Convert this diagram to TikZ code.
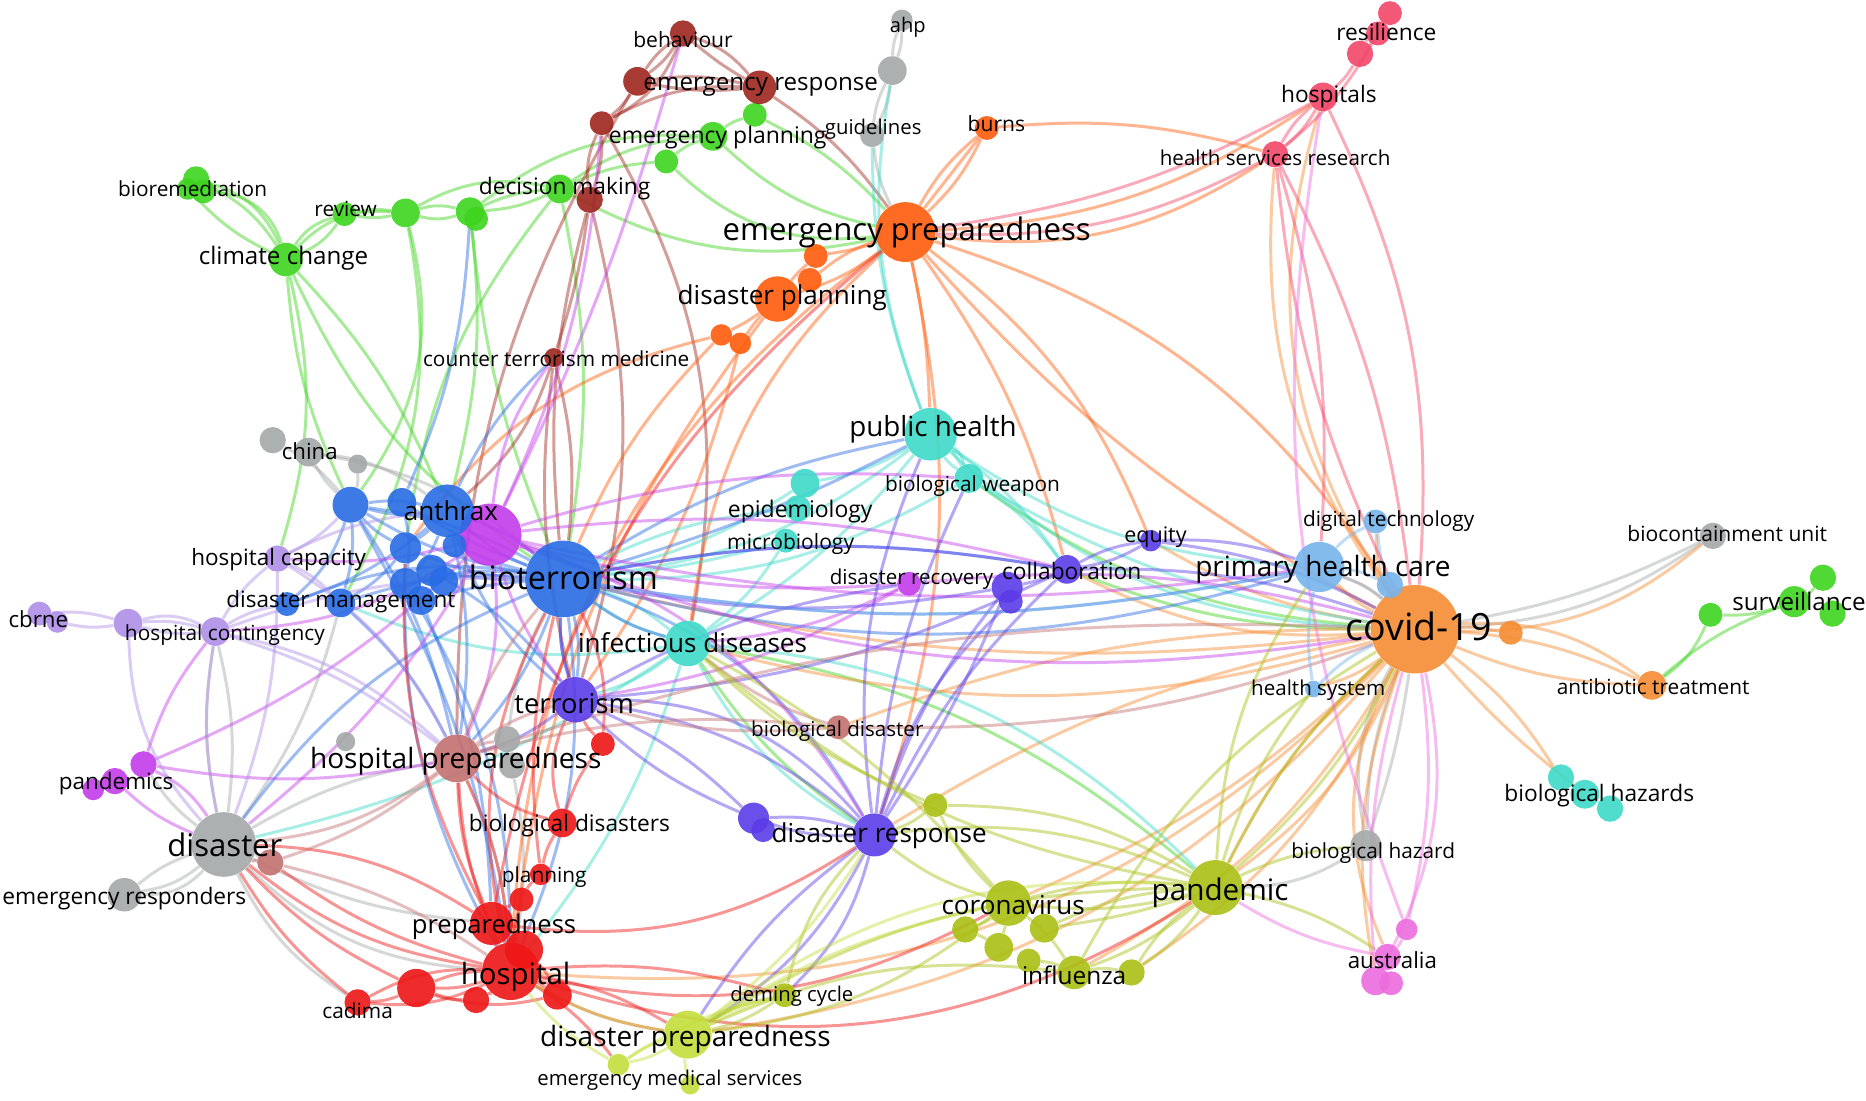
\documentclass[tikz,border=0pt]{standalone}
\usepackage{fontspec}
\setmainfont{Open Sans}
\usetikzlibrary{backgrounds}
\pgfdeclarelayer{bg}
\pgfsetlayers{bg,main}
\definecolor{cG}{RGB}{62,212,30}
\definecolor{cB}{RGB}{158,38,30}
\definecolor{cGy}{RGB}{165,168,168}
\definecolor{cO}{RGB}{255,92,10}
\definecolor{cC}{RGB}{245,140,50}
\definecolor{cCy}{RGB}{62,218,200}
\definecolor{cBl}{RGB}{40,108,228}
\definecolor{cM}{RGB}{196,60,236}
\definecolor{cL}{RGB}{176,142,232}
\definecolor{cI}{RGB}{92,60,232}
\definecolor{cR}{RGB}{238,22,22}
\definecolor{cRb}{RGB}{196,112,112}
\definecolor{cLb}{RGB}{118,180,236}
\definecolor{cY}{RGB}{170,192,20}
\definecolor{cLy}{RGB}{196,222,60}
\definecolor{cP}{RGB}{242,70,104}
\definecolor{cPk}{RGB}{236,108,222}
\tikzset{
  nd/.style={circle, inner sep=0pt, fill opacity=0.9},
  lab/.style={inner sep=0pt, text=black},
  ed/.style={line width=1.25pt, draw opacity=0.45}
}
\newcommand\vn[5]{\node[nd, minimum size=#4pt, fill=#5] (#1) at (#2,#3) {};}
\newcommand\vl[5]{\node[lab, font=\fontsize{#4}{#4}\selectfont] (l#1) at (#2,#3) {#5};}
\newcommand\ve[4]{\draw[ed, #1] (#2) to[bend left=#4] (#3);}
\begin{document}
\begin{tikzpicture}[x=0.5pt, y=-0.5pt]
\useasboundingbox (0,0) rectangle (1560,920);
% ---------- nodes ----------
% green
\vn{brem3}{157}{158}{9}{cG}\vn{brem}{164}{150}{11}{cG}\vn{brem2}{170}{160}{10}{cG}
\vn{clim}{239}{217}{14}{cG}
\vn{revw}{288}{179}{10}{cG}
\vn{g1}{339}{178}{12}{cG}
\vn{g2}{393}{177}{12}{cG}\vn{g2b}{398}{183}{10}{cG}
\vn{decm}{468}{158}{12}{cG}
\vn{g3}{557}{135}{10}{cG}
\vn{eplan}{596}{114}{12}{cG}
\vn{g4}{631}{96}{10}{cG}
\vn{g5}{1430}{514}{10}{cG}
\vn{surv}{1500}{503}{13}{cG}\vn{surv2}{1524}{483}{11}{cG}\vn{surv3}{1532}{513}{11}{cG}
% brown
\vn{behv}{571}{28}{11}{cB}
\vn{br1}{533}{68}{12}{cB}
\vn{eresp}{635}{73}{14}{cB}
\vn{br2}{503}{103}{10}{cB}
\vn{br3}{493}{167}{11}{cB}
\vn{ctm}{463}{299}{8}{cB}
% grey
\vn{ahp}{754}{17}{9}{cGy}
\vn{gy1}{746}{59}{12}{cGy}
\vn{guid}{729}{113}{10}{cGy}
\vn{china}{228}{368}{11}{cGy}
\vn{china2}{258}{378}{12}{cGy}
\vn{gy2}{299}{388}{8}{cGy}
\vn{gy3}{424}{618}{11}{cGy}
\vn{gy4}{428}{640}{11}{cGy}
\vn{gy5}{289}{620}{8}{cGy}
\vn{disa}{187}{706}{27}{cGy}
\vn{eresr}{104}{748}{14}{cGy}
\vn{biocu}{1432}{448}{11}{cGy}
\vn{biohz}{1142}{707}{13}{cGy}
% orange-red
\vn{epre}{757}{194}{25}{cO}
\vn{burns}{825}{107}{10}{cO}
\vn{o1}{682}{214}{10}{cO}
\vn{o2}{677}{234}{10}{cO}
\vn{dplan}{650}{250}{19}{cO}
\vn{o3}{603}{280}{9}{cO}
\vn{o4}{619}{287}{9}{cO}
% covid orange
\vn{covid}{1183}{526}{37}{cC}
\vn{c1}{1263}{529}{10}{cC}
\vn{antib}{1381}{573}{12}{cC}
% cyan
\vn{phea}{778}{363}{22}{cCy}
\vn{bweap}{810}{400}{12}{cCy}
\vn{epid}{673}{404}{12}{cCy}
\vn{epid2}{667}{425}{11}{cCy}
\vn{micro}{657}{452}{10}{cCy}
\vn{infd}{575}{538}{19}{cCy}
\vn{bhzs}{1305}{650}{11}{cCy}\vn{bhzs2}{1325}{664}{12}{cCy}\vn{bhzs3}{1346}{676}{11}{cCy}
% magenta (behind blue)
\vn{mag}{410}{447}{26}{cM}
% blue
\vn{bl1}{293}{422}{15}{cBl}
\vn{bl2}{336}{420}{12}{cBl}
\vn{anth}{374}{427}{22}{cBl}
\vn{bl3}{339}{458}{13}{cBl}
\vn{bl5}{380}{456}{10}{cBl}
\vn{bl4}{361}{477}{13}{cBl}
\vn{bl6}{339}{488}{13}{cBl}
\vn{bl7}{285}{504}{12}{cBl}
\vn{bl8}{240}{505}{10}{cBl}
\vn{bl9}{352}{502}{12}{cBl}
\vn{bl10}{371}{486}{12}{cBl}
\vn{biot}{471}{484}{32}{cBl}
% magenta small
\vn{drec}{760}{488}{10}{cM}
\vn{pand3}{78}{660}{9}{cM}\vn{pand2}{96}{653}{11}{cM}\vn{pand1}{120}{639}{11}{cM}
% lavender
\vn{cbrne}{33}{513}{10}{cL}\vn{cbrne2}{48}{520}{9}{cL}
\vn{hcap}{232}{467}{11}{cL}
\vn{hcont}{180}{528}{12}{cL}
\vn{l1}{107}{521}{12}{cL}
% indigo
\vn{terr}{481}{585}{19}{cI}
\vn{collab}{892}{476}{12}{cI}
\vn{i1}{842}{491}{13}{cI}
\vn{i2}{845}{503}{10}{cI}
\vn{equity}{962}{452}{9}{cI}
\vn{dresp}{731}{698}{18}{cI}
\vn{i3}{630}{684}{13}{cI}
\vn{i4}{638}{694}{10}{cI}
% rosy
\vn{hprep}{382}{634}{20}{cRb}
\vn{rb1}{226}{721}{11}{cRb}
\vn{bdis}{701}{608}{10}{cRb}
% red
\vn{biods}{470}{688}{12}{cR}
\vn{r2}{504}{622}{10}{cR}
\vn{plann}{452}{731}{9}{cR}
\vn{r1}{436}{752}{10}{cR}
\vn{prep}{411}{772}{18}{cR}
\vn{r0}{438}{794}{16}{cR}
\vn{hosp}{427}{812}{24}{cR}
\vn{r3}{348}{826}{16}{cR}
\vn{cadima}{299}{838}{11}{cR}
\vn{r4}{398}{836}{11}{cR}
\vn{r5}{466}{832}{12}{cR}
% light blue
\vn{phc}{1103}{474}{21}{cLb}
\vn{digt}{1150}{436}{10}{cLb}
\vn{lb1}{1162}{489}{11}{cLb}
\vn{hsys}{1098}{576}{7}{cLb}
% yellow-green
\vn{pandm}{1016}{742}{23}{cY}
\vn{coron}{843}{755}{19}{cY}
\vn{y1}{782}{673}{10}{cY}
\vn{y2}{873}{776}{12}{cY}
\vn{y3}{807}{777}{11}{cY}
\vn{y4}{835}{792}{12}{cY}
\vn{y6}{860}{803}{10}{cY}
\vn{influ}{898}{813}{14}{cY}
\vn{y5}{946}{813}{11}{cY}
\vn{demc}{656}{832}{10}{cY}
% light yellow
\vn{dprep}{575}{865}{20}{cLy}
\vn{ems}{517}{890}{9}{cLy}
\vn{ems2}{577}{907}{8}{cLy}
% pink
\vn{resil}{1162}{11}{10}{cP}\vn{resil3}{1152}{28}{10}{cP}\vn{resil2}{1137}{45}{11}{cP}
\vn{hosps}{1106}{81}{12}{cP}
\vn{hsr}{1066}{129}{11}{cP}
% australia
\vn{aus1}{1176}{777}{9}{cPk}
\vn{aus2}{1160}{800}{11}{cPk}
\vn{aus3}{1150}{820}{12}{cPk}
\vn{aus4}{1163}{822}{10}{cPk}
% ---------- edges ----------
\begin{pgfonlayer}{bg}
\fill[white] (0,0) rectangle (1560,920);
% green
\ve{cG}{brem}{clim}{25}\ve{cG}{brem}{clim}{15}\ve{cG}{brem2}{clim}{35}\ve{cG}{brem3}{clim}{-10}
\ve{cG}{clim}{revw}{20}\ve{cG}{clim}{revw}{-15}\ve{cG}{clim}{g1}{25}
\ve{cG}{revw}{g1}{10}\ve{cG}{revw}{g1}{-10}\ve{cG}{g1}{g2}{15}\ve{cG}{g1}{g2}{-15}
\ve{cG}{g2}{decm}{10}\ve{cG}{g2}{decm}{-10}\ve{cG}{g1}{decm}{20}
\ve{cG}{decm}{g3}{10}\ve{cG}{g3}{eplan}{10}\ve{cG}{eplan}{g4}{10}\ve{cG}{decm}{eplan}{15}\ve{cG}{g2}{eplan}{20}
\ve{cG}{clim}{anth}{10}\ve{cG}{clim}{bl1}{-10}\ve{cG}{clim}{hcap}{15}\ve{cG}{clim}{biot}{-15}
\ve{cG}{g1}{bl1}{25}\ve{cG}{g2}{anth}{10}\ve{cG}{g2}{biot}{-8}\ve{cG}{g1}{bl7}{20}
\ve{cG}{decm}{bl3}{-15}\ve{cG}{decm}{biot}{10}
\ve{cG}{eplan}{epre}{-15}\ve{cG}{g4}{epre}{10}\ve{cG}{decm}{epre}{-20}\ve{cG}{g3}{epre}{-25}
\ve{cG}{surv}{g5}{10}\ve{cG}{surv}{antib}{-10}\ve{cG}{g5}{antib}{15}\ve{cG}{surv2}{surv}{10}
\ve{cG}{collab}{covid}{-10}\ve{cG}{infd}{pandm}{15}\ve{cG}{bweap}{covid}{-15}\ve{cG}{infd}{dresp}{-10}
% brown
\ve{cB}{behv}{br1}{10}\ve{cB}{behv}{br1}{-10}\ve{cB}{behv}{eresp}{15}\ve{cB}{behv}{eresp}{-5}
\ve{cB}{br1}{eresp}{10}\ve{cB}{br1}{eresp}{-8}\ve{cB}{br1}{br2}{10}\ve{cB}{br2}{eresp}{15}
\ve{cB}{br2}{br3}{10}\ve{cB}{br2}{br3}{-15}\ve{cB}{behv}{br2}{20}
\ve{cB}{br3}{ctm}{5}\ve{cB}{br3}{biot}{-10}\ve{cB}{ctm}{biot}{10}\ve{cB}{ctm}{terr}{-10}
\ve{cB}{ctm}{anth}{15}\ve{cB}{br3}{terr}{15}\ve{cB}{eresp}{epre}{10}\ve{cB}{br1}{hprep}{-15}\ve{cB}{br2}{infd}{20}
% grey
\ve{cGy}{ahp}{gy1}{10}\ve{cGy}{ahp}{gy1}{-10}\ve{cGy}{gy1}{guid}{10}\ve{cGy}{gy1}{guid}{-10}\ve{cGy}{guid}{epre}{-10}
\ve{cGy}{china}{bl1}{10}\ve{cGy}{china2}{bl1}{-10}\ve{cGy}{china2}{anth}{15}\ve{cGy}{gy2}{bl1}{10}\ve{cGy}{china2}{biot}{15}
\ve{cGy}{disa}{eresr}{15}\ve{cGy}{disa}{eresr}{-10}\ve{cGy}{disa}{eresr}{25}\ve{cGy}{disa}{hprep}{10}\ve{cGy}{disa}{rb1}{5}
\ve{cGy}{disa}{hcont}{10}\ve{cGy}{disa}{hcont}{-10}\ve{cGy}{disa}{pand1}{10}\ve{cGy}{disa}{bl7}{-10}
\ve{cGy}{disa}{hosp}{-20}\ve{cGy}{disa}{cadima}{-15}\ve{cGy}{disa}{prep}{-10}
\ve{cGy}{biocu}{covid}{15}\ve{cGy}{biocu}{covid}{8}\ve{cGy}{biohz}{covid}{10}\ve{cGy}{biohz}{covid}{-5}
\ve{cGy}{biohz}{pandm}{15}\ve{cGy}{biohz}{covid}{20}\ve{cGy}{gy3}{biot}{10}\ve{cGy}{gy4}{hosp}{10}
% orange-red
\ve{cO}{epre}{burns}{10}\ve{cO}{epre}{burns}{-10}\ve{cO}{epre}{burns}{0}\ve{cO}{epre}{o1}{5}\ve{cO}{epre}{o2}{-10}
\ve{cO}{epre}{dplan}{10}\ve{cO}{dplan}{o1}{5}\ve{cO}{dplan}{o3}{5}\ve{cO}{dplan}{o4}{-5}
\ve{cO}{o3}{biot}{-10}\ve{cO}{o4}{terr}{10}\ve{cO}{o3}{bl3}{-20}
\ve{cO}{epre}{hsr}{-20}\ve{cO}{epre}{hosps}{-15}\ve{cO}{burns}{hsr}{10}
\ve{cO}{epre}{covid}{20}\ve{cO}{epre}{covid}{-10}\ve{cO}{epre}{phea}{5}\ve{cO}{epre}{collab}{10}
\ve{cO}{epre}{equity}{15}\ve{cO}{epre}{dresp}{15}\ve{cO}{epre}{hosp}{-25}\ve{cO}{epre}{infd}{-20}\ve{cO}{dplan}{hosp}{-15}
% covid
\ve{cC}{covid}{phc}{10}\ve{cC}{covid}{phc}{-10}\ve{cC}{covid}{lb1}{5}\ve{cC}{covid}{digt}{15}\ve{cC}{covid}{c1}{5}
\ve{cC}{covid}{antib}{10}\ve{cC}{covid}{antib}{-10}\ve{cC}{covid}{antib}{20}\ve{cC}{covid}{biocu}{-20}
\ve{cC}{covid}{bhzs}{10}\ve{cC}{covid}{bhzs2}{-5}\ve{cC}{covid}{aus3}{-15}\ve{cC}{covid}{aus2}{-25}
\ve{cC}{covid}{pandm}{15}\ve{cC}{covid}{pandm}{-10}\ve{cC}{covid}{coron}{10}\ve{cC}{covid}{influ}{15}
\ve{cC}{covid}{hsys}{10}\ve{cC}{covid}{hsr}{20}\ve{cC}{covid}{hosps}{25}\ve{cC}{covid}{equity}{10}
\ve{cC}{covid}{collab}{15}\ve{cC}{covid}{biot}{10}\ve{cC}{covid}{infd}{15}\ve{cC}{covid}{dresp}{-10}
\ve{cC}{covid}{bdis}{-10}\ve{cC}{covid}{hosp}{25}\ve{cC}{covid}{dprep}{20}\ve{cC}{covid}{y5}{15}
% cyan
\ve{cCy}{phea}{bweap}{10}\ve{cCy}{phea}{bweap}{-10}\ve{cCy}{phea}{bweap}{20}\ve{cCy}{phea}{epid}{10}
\ve{cCy}{phea}{biot}{15}\ve{cCy}{phea}{infd}{10}\ve{cCy}{phea}{collab}{10}\ve{cCy}{phea}{phc}{-15}\ve{cCy}{phea}{covid}{-20}
\ve{cCy}{epid}{biot}{10}\ve{cCy}{epid2}{biot}{-10}\ve{cCy}{micro}{biot}{5}\ve{cCy}{micro}{infd}{10}
\ve{cCy}{infd}{biot}{10}\ve{cCy}{infd}{biot}{-10}\ve{cCy}{bweap}{biot}{15}\ve{cCy}{bweap}{collab}{10}
\ve{cCy}{bweap}{covid}{-10}\ve{cCy}{phea}{guid}{10}\ve{cCy}{phea}{gy1}{15}\ve{cCy}{infd}{dresp}{-15}
\ve{cCy}{infd}{terr}{10}\ve{cCy}{infd}{pandm}{20}\ve{cCy}{infd}{disa}{10}\ve{cCy}{infd}{hosp}{10}\ve{cCy}{infd}{bl7}{15}
% blue
\ve{cBl}{biot}{anth}{10}\ve{cBl}{biot}{anth}{-10}\ve{cBl}{biot}{bl1}{10}\ve{cBl}{biot}{bl1}{-10}
\ve{cBl}{biot}{bl2}{5}\ve{cBl}{biot}{bl3}{10}\ve{cBl}{biot}{bl4}{5}\ve{cBl}{biot}{bl5}{5}\ve{cBl}{biot}{bl6}{-10}
\ve{cBl}{biot}{bl7}{-10}\ve{cBl}{biot}{bl8}{-15}\ve{cBl}{biot}{bl9}{-5}\ve{cBl}{anth}{bl1}{10}\ve{cBl}{anth}{bl1}{-10}
\ve{cBl}{anth}{bl3}{5}\ve{cBl}{anth}{bl6}{10}\ve{cBl}{bl1}{bl7}{10}\ve{cBl}{bl1}{bl8}{15}\ve{cBl}{bl1}{bl3}{-10}
\ve{cBl}{bl2}{bl6}{10}\ve{cBl}{bl3}{bl7}{10}\ve{cBl}{anth}{bl8}{10}
\ve{cBl}{biot}{phea}{10}\ve{cBl}{biot}{phea}{-5}\ve{cBl}{biot}{collab}{10}\ve{cBl}{biot}{phc}{-10}\ve{cBl}{biot}{phc}{-15}
\ve{cBl}{biot}{hprep}{10}\ve{cBl}{biot}{terr}{10}\ve{cBl}{biot}{terr}{-10}\ve{cBl}{biot}{infd}{-10}\ve{cBl}{biot}{disa}{-15}
\ve{cBl}{biot}{hosp}{15}\ve{cBl}{bl1}{hprep}{10}\ve{cBl}{bl3}{hosp}{-15}\ve{cBl}{bl6}{hosp}{15}\ve{cBl}{bl7}{hprep}{10}
\ve{cBl}{anth}{hprep}{10}\ve{cBl}{bl1}{hosp}{10}\ve{cBl}{bl9}{prep}{10}\ve{cBl}{anth}{terr}{-15}\ve{cBl}{biot}{dresp}{20}
\ve{cBl}{bl4}{terr}{10}\ve{cBl}{anth}{ctm}{10}\ve{cBl}{bl2}{g2}{-10}
% magenta
\ve{cM}{mag}{biot}{10}\ve{cM}{mag}{anth}{5}\ve{cM}{mag}{drec}{-10}\ve{cM}{mag}{hcap}{10}\ve{cM}{mag}{hcont}{15}
\ve{cM}{mag}{phc}{-10}\ve{cM}{mag}{covid}{-15}\ve{cM}{drec}{covid}{10}\ve{cM}{drec}{infd}{10}\ve{cM}{mag}{pand1}{10}
\ve{cM}{mag}{hprep}{15}\ve{cM}{mag}{terr}{-10}\ve{cM}{mag}{disa}{10}\ve{cM}{pand1}{hcont}{10}\ve{cM}{pand1}{disa}{15}
\ve{cM}{pand2}{disa}{-10}\ve{cM}{pand1}{hprep}{-10}\ve{cM}{mag}{br2}{-10}\ve{cM}{mag}{ctm}{15}\ve{cM}{mag}{collab}{10}
\ve{cM}{mag}{bweap}{10}\ve{cM}{drec}{terr}{10}\ve{cM}{mag}{dresp}{20}\ve{cM}{mag}{behv}{-5}
% lavender
\ve{cL}{cbrne}{l1}{10}\ve{cL}{cbrne2}{l1}{-10}\ve{cL}{l1}{hcont}{10}\ve{cL}{l1}{hcont}{-10}\ve{cL}{l1}{hcont}{20}
\ve{cL}{hcont}{hcap}{10}\ve{cL}{hcont}{bl8}{10}\ve{cL}{hcap}{anth}{10}\ve{cL}{hcap}{bl1}{-10}\ve{cL}{hcont}{disa}{-10}
\ve{cL}{hcont}{hprep}{15}\ve{cL}{hcont}{hprep}{10}\ve{cL}{hcap}{bl7}{10}\ve{cL}{l1}{disa}{-20}\ve{cL}{hcont}{biot}{10}
\ve{cL}{hcap}{disa}{10}\ve{cL}{hcap}{hprep}{15}
% indigo
\ve{cI}{terr}{biot}{10}\ve{cI}{terr}{dresp}{15}\ve{cI}{terr}{dresp}{25}\ve{cI}{terr}{i3}{10}\ve{cI}{terr}{i3}{-10}
\ve{cI}{i3}{dresp}{10}\ve{cI}{i3}{dresp}{-10}\ve{cI}{dresp}{collab}{10}\ve{cI}{dresp}{i1}{10}\ve{cI}{dresp}{i1}{-5}
\ve{cI}{dresp}{i2}{15}\ve{cI}{collab}{equity}{10}\ve{cI}{collab}{equity}{-10}\ve{cI}{collab}{i1}{5}\ve{cI}{equity}{phc}{10}
\ve{cI}{collab}{covid}{10}\ve{cI}{collab}{biot}{-10}\ve{cI}{i1}{biot}{10}\ve{cI}{equity}{covid}{10}\ve{cI}{terr}{collab}{-10}
\ve{cI}{terr}{drec}{10}\ve{cI}{dresp}{phea}{15}\ve{cI}{dresp}{bweap}{10}\ve{cI}{terr}{hprep}{10}
\ve{cI}{dresp}{dprep}{15}\ve{cI}{dresp}{dprep}{-10}\ve{cI}{dresp}{demc}{15}
% red
\ve{cR}{hosp}{prep}{10}\ve{cR}{hosp}{r1}{5}\ve{cR}{prep}{r1}{10}\ve{cR}{r1}{plann}{10}\ve{cR}{plann}{biods}{10}
\ve{cR}{biods}{r2}{10}\ve{cR}{r2}{terr}{10}\ve{cR}{biods}{terr}{20}\ve{cR}{hosp}{r3}{10}\ve{cR}{hosp}{r3}{-10}
\ve{cR}{r3}{cadima}{10}\ve{cR}{hosp}{cadima}{15}\ve{cR}{hosp}{cadima}{-15}\ve{cR}{hosp}{r4}{10}\ve{cR}{hosp}{r5}{5}
\ve{cR}{r4}{r3}{10}\ve{cR}{hosp}{disa}{15}\ve{cR}{prep}{disa}{-15}\ve{cR}{hosp}{dprep}{10}\ve{cR}{hosp}{dprep}{-10}
\ve{cR}{hosp}{coron}{-20}\ve{cR}{prep}{dresp}{-20}\ve{cR}{hosp}{demc}{10}\ve{cR}{hosp}{hprep}{10}\ve{cR}{hosp}{hprep}{-10}
\ve{cR}{prep}{hprep}{10}\ve{cR}{biods}{hprep}{15}\ve{cR}{hosp}{pandm}{-25}\ve{cR}{plann}{biot}{10}\ve{cR}{r2}{biot}{-15}
\ve{cR}{hosp}{biot}{20}\ve{cR}{prep}{bl3}{15}\ve{cR}{cadima}{disa}{10}\ve{cR}{r3}{disa}{10}\ve{cR}{hosp}{rb1}{10}
\ve{cR}{prep}{epre}{20}\ve{cR}{hosp}{ems}{10}\ve{cR}{r0}{r5}{10}\ve{cR}{r3}{r5}{-15}
% rosy
\ve{cRb}{hprep}{biot}{10}\ve{cRb}{hprep}{terr}{10}\ve{cRb}{hprep}{disa}{15}\ve{cRb}{hprep}{rb1}{10}\ve{cRb}{hprep}{covid}{10}
\ve{cRb}{hprep}{bdis}{10}\ve{cRb}{bdis}{infd}{10}\ve{cRb}{bdis}{covid}{-10}\ve{cRb}{bdis}{terr}{10}\ve{cRb}{rb1}{hosp}{10}
\ve{cRb}{rb1}{disa}{10}\ve{cRb}{hprep}{gy3}{10}\ve{cRb}{hprep}{hosp}{10}
% light blue
\ve{cLb}{phc}{digt}{10}\ve{cLb}{phc}{lb1}{10}\ve{cLb}{phc}{covid}{10}\ve{cLb}{hsys}{covid}{10}\ve{cLb}{hsys}{phc}{10}
\ve{cLb}{digt}{covid}{-10}\ve{cLb}{phc}{biot}{10}
% yellow-green
\ve{cY}{pandm}{coron}{10}\ve{cY}{pandm}{coron}{-10}\ve{cY}{pandm}{influ}{10}\ve{cY}{pandm}{y5}{10}\ve{cY}{pandm}{y5}{-10}
\ve{cY}{pandm}{y2}{5}\ve{cY}{coron}{y1}{10}\ve{cY}{coron}{y3}{10}\ve{cY}{coron}{y4}{5}\ve{cY}{coron}{influ}{10}
\ve{cY}{influ}{y5}{10}\ve{cY}{y3}{y4}{5}\ve{cY}{pandm}{dresp}{-15}\ve{cY}{coron}{dresp}{10}\ve{cY}{y1}{dresp}{10}
\ve{cY}{pandm}{biohz}{10}\ve{cY}{pandm}{covid}{10}\ve{cY}{pandm}{covid}{-10}\ve{cY}{pandm}{hsys}{10}\ve{cY}{pandm}{phc}{15}
\ve{cY}{pandm}{dprep}{-15}\ve{cY}{coron}{dprep}{15}\ve{cY}{demc}{dprep}{10}\ve{cY}{demc}{dprep}{-10}\ve{cY}{demc}{dresp}{15}
\ve{cY}{y1}{pandm}{15}\ve{cY}{pandm}{infd}{15}\ve{cY}{y1}{infd}{10}\ve{cY}{coron}{infd}{-10}\ve{cY}{pandm}{aus2}{10}
\ve{cY}{influ}{dprep}{-15}\ve{cY}{y2}{pandm}{10}\ve{cY}{influ}{covid}{15}\ve{cY}{y6}{influ}{10}
% light yellow
\ve{cLy}{dprep}{ems}{10}\ve{cLy}{dprep}{ems}{-10}\ve{cLy}{dprep}{hosp}{10}\ve{cLy}{ems}{hosp}{10}\ve{cLy}{dprep}{demc}{5}
\ve{cLy}{dprep}{coron}{10}\ve{cLy}{dprep}{dresp}{-10}\ve{cLy}{dprep}{pandm}{20}\ve{cLy}{ems}{demc}{10}\ve{cLy}{ems2}{dprep}{10}
% pink
\ve{cP}{resil}{resil2}{10}\ve{cP}{resil}{resil2}{-10}\ve{cP}{resil2}{hosps}{10}\ve{cP}{hosps}{hsr}{10}\ve{cP}{hosps}{hsr}{-10}
\ve{cP}{hsr}{epre}{15}\ve{cP}{hsr}{covid}{10}\ve{cP}{hsr}{covid}{-10}\ve{cP}{hosps}{covid}{15}\ve{cP}{hsr}{phc}{10}
\ve{cP}{hosps}{epre}{10}\ve{cP}{resil3}{hsr}{10}
% australia
\ve{cPk}{aus3}{covid}{10}\ve{cPk}{aus1}{covid}{-10}\ve{cPk}{aus2}{pandm}{10}\ve{cPk}{aus1}{hosps}{15}
\ve{cPk}{aus3}{aus2}{10}\ve{cPk}{aus1}{aus2}{10}\ve{cPk}{aus3}{covid}{-20}
\end{pgfonlayer}
% ---------- labels ----------
\vl{brem}{161}{158}{8.7}{bioremediation}
\vl{clim}{237}{216}{10.1}{climate change}
\vl{revw}{289}{175}{8.7}{review}
\vl{decm}{472}{158}{9.5}{decision making}
\vl{eplan}{600}{115}{9.6}{emergency planning}
\vl{behv}{571}{33}{8.8}{behaviour}
\vl{eresp}{636}{73}{10.1}{emergency response}
\vl{ahp}{759}{23}{8.4}{ahp}
\vl{guid}{730}{108}{8.5}{guidelines}
\vl{burns}{833}{103}{8.8}{burns}
\vl{epre}{758}{194}{13}{emergency preparedness}
\vl{dplan}{654}{249}{10.9}{disaster planning}
\vl{ctm}{465}{300}{8.7}{counter terrorism medicine}
\vl{resil}{1159}{27}{9.5}{resilience}
\vl{hosps}{1111}{81}{9.5}{hospitals}
\vl{hsr}{1066}{132}{8.6}{health services research}
\vl{phea}{780}{359}{11.6}{public health}
\vl{bweap}{813}{406}{8.7}{biological weapon}
\vl{epid}{669}{428}{9.6}{epidemiology}
\vl{micro}{661}{455}{8.8}{microbiology}
\vl{china}{259}{377}{9.3}{china}
\vl{anth}{377}{427}{10.9}{anthrax}
\vl{hcap}{233}{468}{9.4}{hospital capacity}
\vl{bl7}{285}{503}{9.4}{disaster management}
\vl{cbrne}{32}{518}{9.3}{cbrne}
\vl{hcont}{188}{531}{8.7}{hospital contingency}
\vl{biot}{471}{483}{13.5}{bioterrorism}
\vl{infd}{579}{537}{10.9}{infectious diseases}
\vl{terr}{480}{588}{11.4}{terrorism}
\vl{hprep}{381}{636}{11.7}{hospital preparedness}
\vl{pand}{97}{655}{9.4}{pandemics}
\vl{disa}{188}{706}{13}{disaster}
\vl{eresr}{104}{751}{9.5}{emergency responders}
\vl{biods}{476}{690}{9.5}{biological disasters}
\vl{plann}{455}{733}{8.7}{planning}
\vl{prep}{413}{775}{10.7}{preparedness}
\vl{hosp}{431}{817}{12.3}{hospital}
\vl{cadima}{299}{845}{8.7}{cadima}
\vl{dprep}{573}{869}{11.7}{disaster preparedness}
\vl{ems}{560}{903}{8.5}{emergency medical services}
\vl{demc}{662}{833}{8.5}{deming cycle}
\vl{bdis}{700}{611}{8.6}{biological disaster}
\vl{dresp}{735}{699}{10.9}{disaster response}
\vl{coron}{847}{757}{10.9}{coronavirus}
\vl{influ}{898}{815}{10.2}{influenza}
\vl{pandm}{1020}{746}{12.4}{pandemic}
\vl{drec}{762}{484}{8.6}{disaster recovery}
\vl{collab}{896}{477}{9.5}{collaboration}
\vl{equity}{966}{449}{9}{equity}
\vl{phc}{1106}{476}{11.7}{primary health care}
\vl{digt}{1161}{436}{8.7}{digital technology}
\vl{covid}{1186}{524}{15.7}{covid-19}
\vl{biocu}{1444}{446}{8.8}{biocontainment unit}
\vl{surv}{1504}{503}{10.1}{surveillance}
\vl{antib}{1382}{574}{8.7}{antibiotic treatment}
\vl{hsys}{1102}{577}{8.6}{health system}
\vl{bhzs}{1337}{665}{9.5}{biological hazards}
\vl{biohz}{1148}{713}{8.7}{biological hazard}
\vl{aus}{1164}{803}{9.3}{australia}
\end{tikzpicture}
\end{document}
